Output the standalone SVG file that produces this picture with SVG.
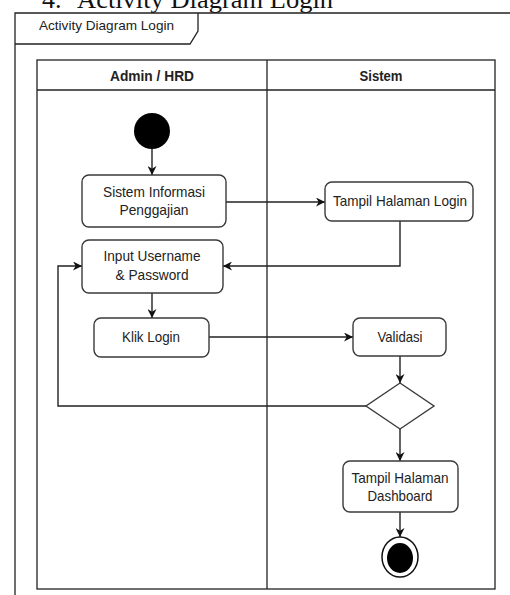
<svg xmlns="http://www.w3.org/2000/svg" width="510" height="595" viewBox="0 0 510 595">
  <defs>
    <marker id="arrow" viewBox="0 0 10 10" refX="10" refY="5" markerWidth="9" markerHeight="9" markerUnits="userSpaceOnUse" orient="auto">
      <path d="M0,0 L10,5 L0,10 L3,5 z" fill="#111"/>
    </marker>
    <style>
      .frame { fill: none; stroke: #222; stroke-width: 1.3; }
      .node { fill: #fff; stroke: #3a3a3a; stroke-width: 1.4; }
      .edge { fill: none; stroke: #222; stroke-width: 1.4; marker-end: url(#arrow); }
      .line { fill: none; stroke: #222; stroke-width: 1.4; }
      .lbl { font-family: "Liberation Sans", Arial, sans-serif; font-size: 15px; fill: #222; text-anchor: middle; }
      .head { font-family: "Liberation Sans", Arial, sans-serif; font-size: 14px; font-weight: bold; fill: #222; text-anchor: middle; }
      .caption { font-family: "Liberation Serif", "Times New Roman", serif; font-size: 26px; fill: #111; }
    </style>
  </defs>
  <rect width="510" height="595" fill="#fff"/>

  <!-- heading line above the figure -->
  <text class="caption" x="42" y="8">4.</text>
  <text class="caption" x="77" y="8" textLength="256" lengthAdjust="spacingAndGlyphs">Activity Diagram Login</text>

  <!-- outer frame with name tab -->
  <g id="frame">
    <path class="frame" d="M15,595 L15,13 L512,13"/>
    <path class="frame" d="M15,44 L190,44 L198,31 L198,13"/>
    <text x="39" y="30" font-family="Liberation Sans, Arial, sans-serif" font-size="13" fill="#222" textLength="135" lengthAdjust="spacingAndGlyphs">Activity Diagram Login</text>
  </g>

  <!-- swimlanes -->
  <g id="lanes">
    <rect class="frame" x="37" y="60" width="458" height="529"/>
    <line class="frame" x1="37" y1="90" x2="495" y2="90"/>
    <line class="frame" x1="267" y1="60" x2="267" y2="589"/>
    <text class="head" x="152" y="81" textLength="84" lengthAdjust="spacingAndGlyphs">Admin / HRD</text>
    <text class="head" x="381" y="81" textLength="43" lengthAdjust="spacingAndGlyphs">Sistem</text>
  </g>

  <!-- connectors -->
  <g id="connectors">
    <path class="edge" d="M152,149 L152,175"/>
    <path class="edge" d="M226,202 L325,202"/>
    <path class="edge" d="M400,221 L400,266 L223,266"/>
    <path class="edge" d="M152,293 L152,318"/>
    <path class="edge" d="M209,337 L353,337"/>
    <path class="edge" d="M400,356 L400,383"/>
    <path class="edge" d="M366,406 L58,406 L58,266 L82,266"/>
    <path class="edge" d="M400,429 L400,461"/>
    <path class="edge" d="M400,512 L400,537"/>
  </g>

  <g id="start">
    <circle cx="152" cy="131" r="18" fill="#000"/>
  </g>

  <g id="sistem-informasi">
    <rect class="node" x="82" y="175" width="144" height="52" rx="7"/>
    <text class="lbl" x="154" y="197" textLength="102" lengthAdjust="spacingAndGlyphs">Sistem Informasi</text>
    <text class="lbl" x="154" y="215" textLength="69" lengthAdjust="spacingAndGlyphs">Penggajian</text>
  </g>

  <g id="tampil-login">
    <rect class="node" x="325" y="182" width="148" height="39" rx="7"/>
    <text class="lbl" x="400" y="206" textLength="134" lengthAdjust="spacingAndGlyphs">Tampil Halaman Login</text>
  </g>

  <g id="input-username">
    <rect class="node" x="82" y="240" width="141" height="53" rx="7"/>
    <text class="lbl" x="152" y="261" textLength="97" lengthAdjust="spacingAndGlyphs">Input Username</text>
    <text class="lbl" x="152" y="280" textLength="73" lengthAdjust="spacingAndGlyphs">&amp; Password</text>
  </g>

  <g id="klik-login">
    <rect class="node" x="94" y="318" width="115" height="39" rx="7"/>
    <text class="lbl" x="151" y="342" textLength="58" lengthAdjust="spacingAndGlyphs">Klik Login</text>
  </g>

  <g id="validasi">
    <rect class="node" x="353" y="318" width="93" height="38" rx="7"/>
    <text class="lbl" x="400" y="342" textLength="45" lengthAdjust="spacingAndGlyphs">Validasi</text>
  </g>

  <g id="decision">
    <path class="node" d="M400,383 L434,406 L400,429 L366,406 Z"/>
  </g>

  <g id="tampil-dashboard">
    <rect class="node" x="343" y="461" width="115" height="51" rx="7"/>
    <text class="lbl" x="400" y="483" textLength="97" lengthAdjust="spacingAndGlyphs">Tampil Halaman</text>
    <text class="lbl" x="400" y="501" textLength="65" lengthAdjust="spacingAndGlyphs">Dashboard</text>
  </g>

  <g id="end">
    <ellipse cx="400" cy="557" rx="18" ry="20" fill="#fff" stroke="#111" stroke-width="1.5"/>
    <ellipse cx="400" cy="558" rx="13" ry="15" fill="#000"/>
  </g>
</svg>
